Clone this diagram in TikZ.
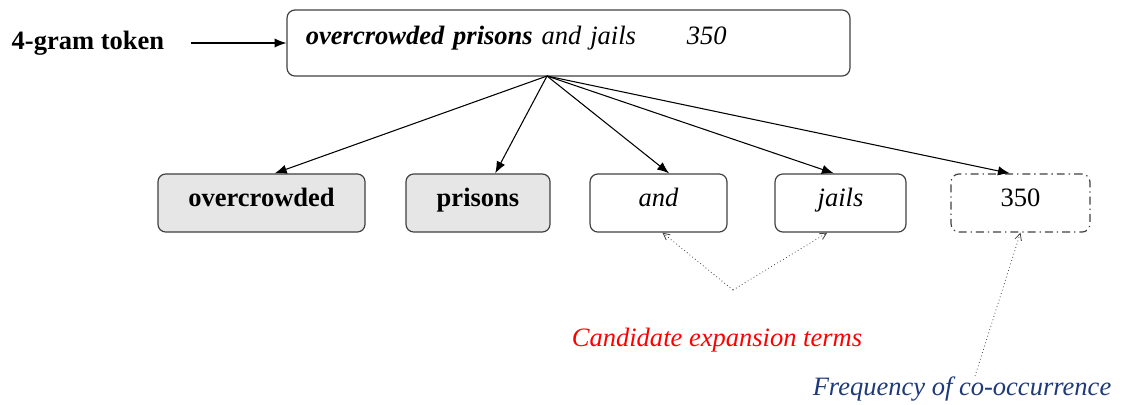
\documentclass[tikz,border=0pt]{standalone}
\usepackage{fontspec}
\setmainfont{Liberation Serif}
\usetikzlibrary{arrows.meta}
\definecolor{boxline}{HTML}{404040}
\definecolor{termgray}{HTML}{E6E6E6}
\definecolor{freqblue}{HTML}{1F3A7A}
\begin{document}
\begin{tikzpicture}[x=0.0265cm,y=-0.0265cm,
    every node/.style={font=\fontsize{20}{24}\selectfont},
    term/.style={draw=boxline,line width=0.9pt,rounded corners=6pt,minimum height=1.54cm,inner sep=0pt,
        text height=12pt,text depth=6pt},
    arr/.style={-{Latex[length=9pt,width=7pt]},line width=0.8pt},
    hint/.style={-{Straight Barb[length=5pt,width=5pt]},dotted,line width=0.6pt,draw=black!75}]
    \useasboundingbox (0,0) rectangle (1122,404);
    \node[anchor=west](token) at (7,43) {\textbf{4-gram token}};
    \node[term,minimum height=1.75cm,minimum width=14.92cm,text width=13.92cm,inner xsep=0.5cm,align=left](ngram) at (568.5,43)
        {\raisebox{1.5pt}{\textbf{\textit{overcrowded prisons}} \textit{and jails}\hspace{1.35cm}\textit{350}}};
    \node[term,fill=termgray,minimum width=5.49cm](over) at (261.5,203) {\textbf{overcrowded}};
    \node[term,fill=termgray,minimum width=3.82cm](prisons) at (478,203) {\textbf{prisons}};
    \node[term,minimum width=3.63cm](and) at (658.5,203) {\textit{and}};
    \node[term,minimum width=3.47cm](jails) at (840.5,203) {\textit{jails}};
    \node[term,dash pattern=on 6pt off 3pt on 1pt off 3pt,minimum width=3.68cm](freqbox) at (1020.5,203) {350};
    \node[text=red](cand) at (717,340) {\textit{Candidate expansion terms}};
    \node[text=freqblue](freq) at (962,389) {\textit{Frequency of co-occurrence}};
    \coordinate (hub) at (547,76);
    \coordinate (apex) at (733,290);
    \coordinate (freqtip) at (975,376);
    \draw[arr,shorten <=17pt](token) -- (ngram);
    \draw[arr](hub) -- ([xshift=10pt]over.north);
    \draw[arr](hub) -- ([xshift=13pt]prisons.north);
    \draw[arr](hub) -- ([xshift=8pt]and.north);
    \draw[arr](hub) -- ([xshift=-5pt]jails.north);
    \draw[arr](hub) -- ([xshift=-8pt]freqbox.north);
    \draw[hint](apex) -- ([xshift=3pt]and.south);
    \draw[hint](apex) -- ([xshift=-10pt]jails.south);
    \draw[hint](freqtip) -- (freqbox.south);
\end{tikzpicture}
\end{document}
